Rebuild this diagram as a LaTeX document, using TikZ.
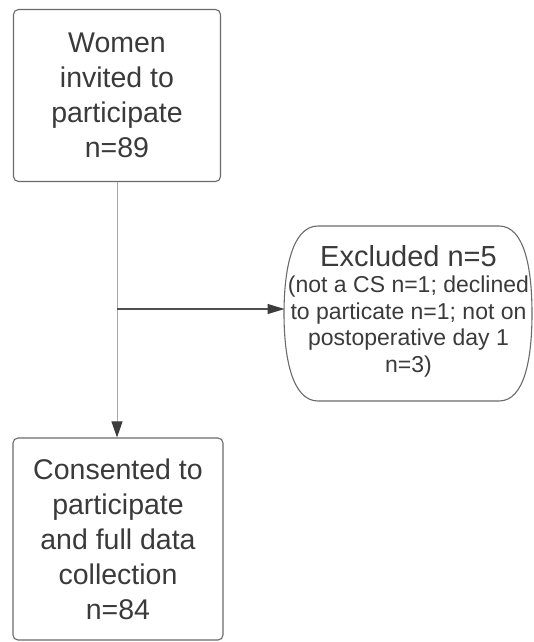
\documentclass[tikz,border=0pt]{standalone}
\usepackage{fontspec}
\setmainfont{Liberation Sans}
\usetikzlibrary{arrows.meta}
\definecolor{boxline}{HTML}{6A6A6A}
\definecolor{textgray}{HTML}{3A3A3A}
\definecolor{lightline}{HTML}{A8A8A8}
\definecolor{darkline}{HTML}{505050}
\definecolor{tipgray}{HTML}{3C3C3C}
\tikzset{flowbox/.style={draw=boxline, line width=1.1pt, rounded corners=5pt, text=textgray, align=center, inner sep=0pt, font=\fontsize{28.5}{35}\selectfont}}
\tikzset{excltext/.style={text=textgray, align=center, inner sep=0pt, font=\fontsize{23}{26.5}\selectfont}}
\tikzset{outline/.style={draw=boxline, line width=1.1pt}}

\begin{document}
\begin{tikzpicture}[x=1pt, y=-1pt]
    \useasboundingbox (0,0) rectangle (533,642);
    \node[flowbox, minimum width=207pt, minimum height=172pt] at (117,95.5) (invited){Women\\invited to\\participate\\n=89};
    \node[flowbox, minimum width=210pt, minimum height=202pt] at (118,539) (consented){Consented to\\participate\\and full data\\collection\\n=84};
    \node[excltext] at (408.5,311) (excluded){{\fontsize{29}{30}\selectfont Excluded n=5}\\(not a CS n=1; declined\\to particate n=1; not on\\postoperative day 1\\n=3)};

    % outline of the excluded box
    \draw[outline] (318,226) -- (499,226)
        .. controls (525,226) and (532,270) .. (532,313.5)
        .. controls (532,357) and (525,401) .. (499,401)
        -- (318,401)
        .. controls (292,401) and (284,357) .. (284,313.5)
        .. controls (284,270) and (292,226) .. cycle;

    \coordinate (split) at (117,309);
    \coordinate (exclleft) at (284.5,309);

    \draw [lightline, line width=1pt, -{Triangle[length=16pt, width=11pt, color=tipgray]}] (invited.south) -- (invited.south |- consented.north);
    \draw [darkline, line width=1.2pt, -{Triangle[length=17pt, width=10pt, color=tipgray]}] (split) -- (exclleft);
\end{tikzpicture}
\end{document}
